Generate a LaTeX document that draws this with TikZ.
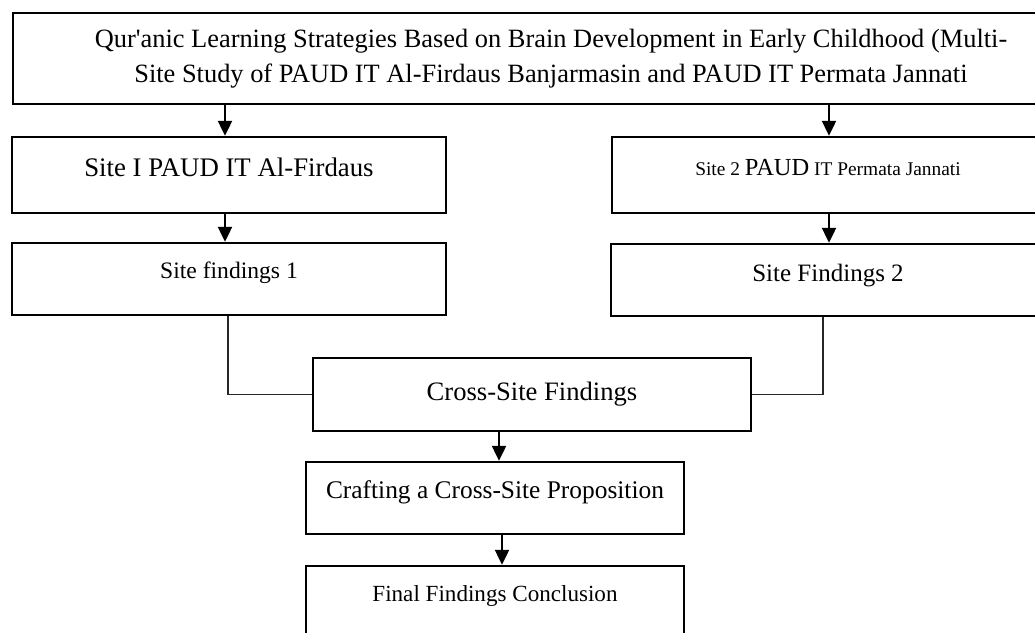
\documentclass[tikz,border=0pt]{standalone}
\usepackage{fontspec}
\setmainfont{Liberation Serif}
\usetikzlibrary{arrows.meta}
\newcommand{\fs}[1]{\fontsize{#1}{#1}\selectfont}
\begin{document}
\begin{tikzpicture}[x=1pt,y=-1pt,
  box/.style={draw,line width=2.4pt,inner sep=0pt,minimum width=#1},
  arr/.style={line width=2.2pt,-{Triangle[width=14pt,length=15pt]}},
  link/.style={line width=1.2pt,black!85}]
\useasboundingbox (0,0) rectangle (1035,632);
% boxes
\node[box=1076pt,minimum height=91pt,align=center,font=\fontsize{26.4}{35}\selectfont] (top) at (551,58.5)
  {Qur\textquotesingle anic Learning Strategies Based on Brain Development in Early Childhood (Multi-\\
   Site Study of PAUD IT Al-Firdaus Banjarmasin and PAUD IT Permata Jannati};
\node[box=434pt,minimum height=76pt,text depth=16pt,font=\fs{26.8}] (s1) at (229,175) {Site I PAUD IT Al-Firdaus};
\node[box=432pt,minimum height=76pt,text depth=16pt,font=\fs{19.4}] (s2) at (828,175) {Site 2 {\fs{24.5}PAUD} IT Permata Jannati};
\node[box=434pt,minimum height=72pt,text depth=18pt,font=\fs{23.6}] (f1) at (229,279) {Site findings 1};
\node[box=434pt,minimum height=72pt,text depth=15pt,font=\fs{25}] (f2) at (828,280) {Site Findings 2};
\node[box=438pt,minimum height=73pt,font=\fs{26.6}] (cross) at (532,394.5) {Cross-Site Findings};
\node[box=378pt,minimum height=72pt,text depth=16pt,font=\fs{25.4}] (craft) at (495,498) {Crafting a Cross-Site Proposition};
\node[box=378pt,minimum height=72pt,text depth=18pt,font=\fs{23.1}] (final) at (495,602) {Final Findings Conclusion};
% arrows
\coordinate (a1) at (225,0);
\coordinate (a2) at (829,0);
\coordinate (a3) at (499,0);
\coordinate (a4) at (502,0);
\draw[arr] (a1|-top.south)--(a1|-s1.north);
\draw[arr] (a2|-top.south)--(a2|-s2.north);
\draw[arr] (a1|-s1.south)--(a1|-f1.north);
\draw[arr] (a2|-s2.south)--(a2|-f2.north);
\draw[arr] (a3|-cross.south)--(a3|-craft.north);
\draw[arr] (a4|-craft.south)--(a4|-final.north);
% links to cross-site
\coordinate (c1) at (228,0);
\coordinate (c2) at (823,0);
\draw[link] (c1|-f1.south)|-(cross.west);
\draw[link] (c2|-f2.south)|-(cross.east);
\end{tikzpicture}
\end{document}
